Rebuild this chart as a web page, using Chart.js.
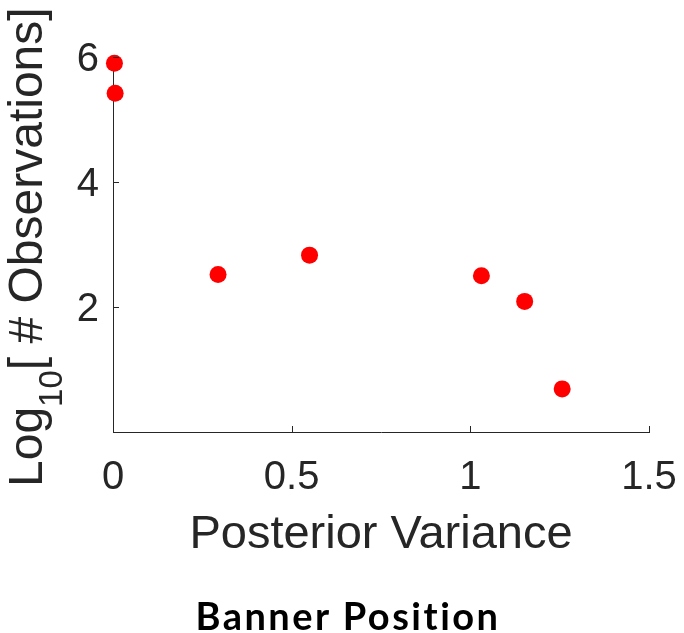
<!DOCTYPE html>
<html lang="en">
<head>
<meta charset="UTF-8">
<title>Posterior Variance</title>
<script src="https://cdn.jsdelivr.net/npm/chart.js"></script>
<style>
    html, body { margin: 0; padding: 0; background: #fff; }
    #wrap { position: relative; width: 684px; height: 633px; overflow: hidden; }
    #banner {
        position: absolute; left: 0; width: 696px; top: 596px;
        text-align: center; font-family: 'Lato', sans-serif; font-weight: 700;
        font-size: 38px; letter-spacing: 2.5px; line-height: 1; color: #000;
    }
</style>
</head>
<body>
<div id="wrap">
    <canvas id="chart" width="684" height="633"></canvas>
    <div id="banner">Banner Position</div>
</div>
<script>
    // data
    const variance = [0.004, 0.006, 0.294, 0.55, 1.031, 1.152, 1.257];
    const logObs = [5.90, 5.42, 2.52, 2.83, 2.50, 2.09, 0.69];
    const xTicks = [0, 0.5, 1, 1.5];
    const yTicks = [2, 4, 6];
    const xTickLabels = ['0', '0.5', '1', '1.5'];
    const yTickLabels = ['2', '4', '6'];

    const ink = '#262626';

    // MATLAB style ticks pointing into the plot, and the y title with a subscript
    const matlabAxes = {
        id: 'matlabAxes',
        afterDraw(chart) {
            const ctx = chart.ctx;
            const xs = chart.scales.x, ys = chart.scales.y;
            const area = chart.chartArea;
            ctx.save();
            ctx.strokeStyle = ink;
            ctx.lineWidth = 1;
            ctx.beginPath();
            xTicks.forEach(v => {
                const px = Math.round(xs.getPixelForValue(v)) + 0.5;
                ctx.moveTo(px, area.bottom);
                ctx.lineTo(px, area.bottom - 6);
            });
            yTicks.forEach(v => {
                const py = Math.round(ys.getPixelForValue(v)) + 0.5;
                ctx.moveTo(area.left, py);
                ctx.lineTo(area.left + 6, py);
            });
            ctx.stroke();

            // y title: Log_10[ # Observations]
            ctx.translate(42, 487);
            ctx.rotate(-Math.PI / 2);
            ctx.fillStyle = ink;
            ctx.textBaseline = 'alphabetic';
            ctx.textAlign = 'left';
            ctx.font = '48px "Liberation Sans", Arial, sans-serif';
            ctx.fillText('Log', 0, 0);
            let w = ctx.measureText('Log').width;
            ctx.font = '33px "Liberation Sans", Arial, sans-serif';
            ctx.fillText('10', w, 20);
            w += ctx.measureText('10').width;
            ctx.font = '48px "Liberation Sans", Arial, sans-serif';
            ctx.fillText('[ # Observations]', w, 0);
            ctx.restore();
        }
    };

    new Chart(document.getElementById('chart'), {
        type: 'scatter',
        data: {
            datasets: [{
                data: variance.map((v, i) => ({ x: v, y: logObs[i] })),
                backgroundColor: '#ff0000',
                borderWidth: 0,
                pointRadius: 8.5,
                pointHoverRadius: 8.5,
                clip: false
            }]
        },
        options: {
            responsive: false,
            animation: false,
            layout: { padding: { left: 0, right: 35, top: 57, bottom: 0 } },
            plugins: { legend: { display: false }, tooltip: { enabled: false } },
            scales: {
                x: {
                    type: 'linear', min: 0, max: 1.5,
                    afterBuildTicks: s => { s.ticks = xTicks.map(v => ({ value: v })); },
                    afterFit: s => { s.height = 201; s.paddingLeft = 0; s.paddingRight = 0; },
                    grid: { display: false, drawTicks: false, tickLength: 0 },
                    border: { display: true, color: ink, width: 1 },
                    ticks: {
                        color: ink, padding: 22,
                        font: { family: '"Liberation Sans", Arial, sans-serif', size: 40 },
                        callback: (v, i) => xTickLabels[i]
                    },
                    title: {
                        display: true, text: 'Posterior Variance', color: ink,
                        font: { family: '"Liberation Sans", Arial, sans-serif', size: 47 },
                        padding: { top: 0, bottom: 70 }
                    }
                },
                y: {
                    type: 'linear', min: 0, max: 6,
                    afterBuildTicks: s => { s.ticks = yTicks.map(v => ({ value: v })); },
                    afterFit: s => { s.width = 113; s.paddingTop = 0; s.paddingBottom = 0; },
                    grid: { display: false, drawTicks: false, tickLength: 0 },
                    border: { display: true, color: ink, width: 1 },
                    ticks: {
                        color: ink, padding: 14, labelOffset: 3,
                        font: { family: '"Liberation Sans", Arial, sans-serif', size: 40 },
                        callback: (v, i) => yTickLabels[i]
                    }
                }
            }
        },
        plugins: [matlabAxes]
    });
</script>
</body>
</html>
